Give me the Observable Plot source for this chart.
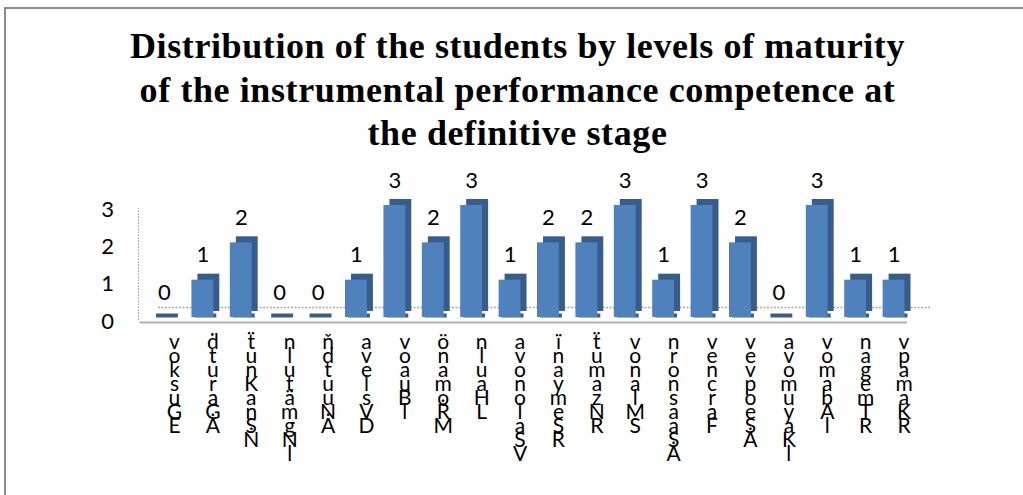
<!DOCTYPE html>
<html>
<head>
<meta charset="utf-8">
<script src="https://cdn.jsdelivr.net/npm/d3@7"></script>
<script src="https://cdn.jsdelivr.net/npm/@observablehq/plot@0.6"></script>
<style>
  html, body { margin: 0; padding: 0; background: #fff; overflow: hidden; width: 1023px; height: 495px; }
  #box { position: absolute; left: 4px; top: 7px; width: 1060px; height: 620px; border: 2px solid #8c8c8c; box-sizing: border-box; }
  #title { position: absolute; left: 0; top: 25px; width: 1035px; text-align: center;
    font-family: "Liberation Serif", "Times New Roman", serif; font-weight: bold; font-size: 36px;
    line-height: 43.5px; color: #000; letter-spacing: 0.6px; }
  #chart { position: absolute; left: 0; top: 160px; }
</style>
</head>
<body>
<div id="box"></div>
<div id="title">Distribution of the students by levels of maturity<br>of the instrumental performance competence at<br>the definitive stage</div>
<div id="chart"></div>
<script>
const categories = [
  "voksuGE", "ḋturaGȦ", "ẗunKanSṄ", "nlutämgNl", "ňdtuuNȦ",
  "avelsVD", "voauBl", "önamoṘM", "nluaHL", "avonolaSV",
  "ïnaymeSR", "ẗumazNR", "vonalMS", "nronsaaSȦ", "vencraF",
  "vevpoeSȦ", "avomuyaKl", "vomabAl", "nagemTR", "vpamaKR"
];
const values = [0, 1, 2, 0, 0, 1, 3, 2, 3, 1, 2, 2, 3, 1, 3, 2, 0, 3, 1, 1];
const yTicks = [0, 1, 2, 3];

const data = categories.map((name, i) => ({name, value: values[i]}));

const chart = Plot.plot({
  width: 1023,
  height: 335,
  marginLeft: 136.5,
  marginRight: 102,
  marginTop: 45,
  marginBottom: 178,
  x: {domain: categories, padding: 0.43, round: false, label: null},
  y: {domain: [0, 3], label: null},
  style: {fontFamily: "Lato, 'Open Sans', sans-serif", fontSize: "20px", color: "#000", background: "transparent"},
  marks: [
    Plot.ruleX([categories[0]], {y1: 0, y2: 3, dx: -26, dy: 3, stroke: "#9a9a9a", strokeDasharray: "1.5,1.5"}),
    Plot.ruleY([0], {dy: -10, insetLeft: 21.5, insetRight: -9, stroke: "#a8a8a8", strokeWidth: 1.5, strokeDasharray: "2,1.5"}),
    Plot.ruleY([0], {dy: 5, insetLeft: 3, insetRight: 14, stroke: "#b0b0b0", strokeWidth: 2}),
    Plot.tickY(data, {x: "name", y: () => 0, stroke: "#385D8A", strokeWidth: 4, dx: 3, dy: -2}),
    Plot.barY(data, {x: "name", y: "value", fill: "#385D8A", dx: 6, dy: -6}),
    Plot.barY(data, {x: "name", y: "value", fill: "#4F81BD"}),
    Plot.text(data, {x: "name", y: "value", text: d => String(d.value), dy: -25, fontSize: 22}),
    Plot.axisY(yTicks, {tickSize: 0, tickPadding: 23, dy: 4, fontSize: 22, tickFormat: d => String(d)}),
    Plot.axisX({tickSize: 0, tickPadding: 21, dx: 10, lineHeight: 0.67, fontSize: 21,
      tickFormat: d => Array.from(d).join("\n")})
  ]
});
document.getElementById("chart").append(chart);
</script>
</body>
</html>
